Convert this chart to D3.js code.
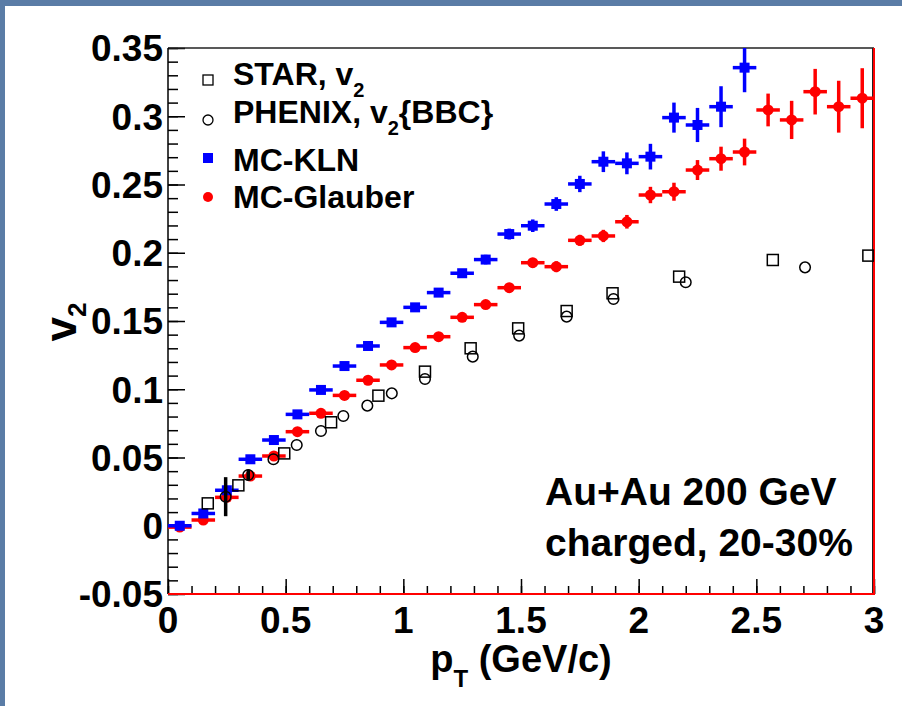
<!DOCTYPE html>
<html>
<head>
<meta charset="utf-8">
<script src="https://cdn.jsdelivr.net/npm/d3@7"></script>
<style>
  html, body { margin: 0; padding: 0; background: #5a7ca6; }
  text { font-family: "Liberation Sans", Arial, Helvetica, sans-serif; font-weight: bold; fill: #000; }
</style>
</head>
<body>
<div id="plot"></div>
<script>
////////////////////////////////////////////////////////////////////////
// data

// MC-KLN (blue squares), bins of width 0.1
let klnPt = [0.05, 0.15, 0.25, 0.35, 0.45, 0.55, 0.65, 0.75, 0.85, 0.95, 1.05, 1.15, 1.25,
             1.35, 1.45, 1.55, 1.65, 1.75, 1.85, 1.95, 2.05, 2.15, 2.25, 2.35, 2.45];
let klnV2 = [0.000, 0.009, 0.026, 0.0487, 0.0628, 0.0816, 0.0995, 0.117, 0.1317, 0.149, 0.160,
             0.1708, 0.185, 0.195, 0.2137, 0.2198, 0.2357, 0.2504, 0.2667, 0.2655, 0.2704,
             0.299, 0.2936, 0.307, 0.3356];
let klnErr = [0.002, 0.002, 0.002, 0.002, 0.002, 0.002, 0.002, 0.002, 0.002, 0.0025, 0.003,
              0.003, 0.003, 0.0035, 0.004, 0.0046, 0.005, 0.006, 0.0076, 0.008, 0.0094,
              0.011, 0.0125, 0.015, 0.018];

// MC-Glauber (red circles)
let glbPt = [0.05, 0.15, 0.25, 0.35, 0.45, 0.55, 0.65, 0.75, 0.85, 0.95, 1.05, 1.15, 1.25,
             1.35, 1.45, 1.55, 1.65, 1.75, 1.85, 1.95, 2.05, 2.15, 2.25, 2.35, 2.45,
             2.55, 2.65, 2.75, 2.85, 2.95];
let glbV2 = [-0.001, 0.0042, 0.0208, 0.0364, 0.0511, 0.0689, 0.0824, 0.0955, 0.1066, 0.1178,
             0.1305, 0.1385, 0.1527, 0.162, 0.1744, 0.1927, 0.1898, 0.2091, 0.2123, 0.2227,
             0.2423, 0.2447, 0.2606, 0.2689, 0.2738, 0.3046, 0.2973, 0.318, 0.307, 0.3132];
let glbErr = [0.002, 0.002, 0.002, 0.002, 0.002, 0.002, 0.002, 0.002, 0.0025, 0.0025, 0.003,
              0.003, 0.003, 0.003, 0.0035, 0.0035, 0.004, 0.004, 0.0045, 0.005, 0.006,
              0.0066, 0.0073, 0.0088, 0.0098, 0.012, 0.014, 0.0167, 0.019, 0.022];

// STAR v2 (open squares)
let starPt = [0.169, 0.299, 0.494, 0.693, 0.894, 1.092, 1.286, 1.488, 1.694, 1.889, 2.172, 2.570, 2.976];
let starV2 = [0.0164, 0.0296, 0.053, 0.0758, 0.0953, 0.1129, 0.130, 0.1446, 0.1573, 0.1703,
              0.1825, 0.1947, 0.1979];

// PHENIX v2{BBC} (open circles)
let phxPt = [0.245, 0.341, 0.448, 0.547, 0.650, 0.745, 0.847, 0.951, 1.092, 1.295, 1.492,
             1.694, 1.893, 2.200, 2.707];
let phxV2 = [0.0213, 0.0372, 0.0487, 0.0592, 0.0694, 0.0804, 0.088, 0.097, 0.1075, 0.1239,
             0.1393, 0.1532, 0.1661, 0.1784, 0.1893];
let phxErr = [0.0143, 0.004, 0, 0, 0, 0, 0, 0, 0, 0, 0, 0, 0, 0, 0];

let xTicks = [0, 0.5, 1, 1.5, 2, 2.5, 3];
let yTicks = [-0.05, 0, 0.05, 0.1, 0.15, 0.2, 0.25, 0.3, 0.35];
let legendLabels = ["STAR", "PHENIX", "MC-KLN", "MC-Glauber"];

////////////////////////////////////////////////////////////////////////
// canvas

let width = 902;
let height = 706;

let svg = d3.select("#plot")
    .append("svg")
    .attr("width", width)
    .attr("height", height)
    .style("display", "block");

// slide background peeks out at the top and left
svg.append("rect").attr("x", 0).attr("y", 0).attr("width", width).attr("height", height)
    .attr("fill", "#5a7ca6");
svg.append("rect").attr("x", 5).attr("y", 6).attr("width", width - 5).attr("height", height - 6)
    .attr("fill", "#ffffff");

// frame of the plot area
let fLeft = 168, fRight = 874, fTop = 48, fBottom = 594;

let xScale = d3.scaleLinear().domain([0, 3]).range([fLeft, fRight]);
let yScale = d3.scaleLinear().domain([-0.05, 0.35]).range([fBottom, fTop]);

// minor ticks every 0.1 on x, 0.01 on y
let xMinor = d3.range(0, 31).map(i => i / 10);
let yMinor = d3.range(-5, 36).map(i => i / 100);

let xAxisMinor = d3.axisTop(xScale).tickValues(xMinor).tickSize(8).tickFormat("");
let xAxisMajor = d3.axisTop(xScale).tickValues(xTicks).tickSize(15).tickFormat("");
let yAxisMinor = d3.axisRight(yScale).tickValues(yMinor).tickSize(10).tickFormat("");
let yAxisMajor = d3.axisRight(yScale).tickValues(yTicks).tickSize(17).tickFormat("");

[xAxisMinor, xAxisMajor].forEach(ax => {
    svg.append("g").attr("transform", `translate(0,${fBottom})`).call(ax)
        .call(g => g.select(".domain").remove())
        .selectAll("line").attr("stroke", "#000").attr("stroke-width", 1.5);
});
[yAxisMinor, yAxisMajor].forEach(ax => {
    svg.append("g").attr("transform", `translate(${fLeft},0)`).call(ax)
        .call(g => g.select(".domain").remove())
        .selectAll("line").attr("stroke", "#000").attr("stroke-width", 1.5);
});

// tick labels (plain hyphen for the minus, like ROOT)
let fmt = d => String(Math.round(d * 100) / 100);

svg.append("g").selectAll("text")
    .data(xTicks)
    .enter().append("text")
    .attr("x", d => xScale(d))
    .attr("y", 633)
    .attr("text-anchor", "middle")
    .attr("font-size", 37)
    .text(fmt);

svg.append("g").selectAll("text")
    .data(yTicks)
    .enter().append("text")
    .attr("x", 163)
    .attr("y", d => yScale(d))
    .attr("dy", "0.36em")
    .attr("text-anchor", "end")
    .attr("font-size", 37)
    .text(fmt);

// frame: black on top/left, red on bottom/right
svg.append("line").attr("x1", fLeft).attr("x2", fRight).attr("y1", fTop).attr("y2", fTop)
    .attr("stroke", "#222").attr("stroke-width", 1.5);
svg.append("line").attr("x1", fLeft).attr("x2", fLeft).attr("y1", fTop).attr("y2", fBottom)
    .attr("stroke", "#000").attr("stroke-width", 1.5);
svg.append("line").attr("x1", fRight - 1.5).attr("x2", fRight - 1.5).attr("y1", fTop).attr("y2", fBottom)
    .attr("stroke", "#222").attr("stroke-width", 1);
svg.append("line").attr("x1", fLeft).attr("x2", fRight + 1).attr("y1", fBottom).attr("y2", fBottom)
    .attr("stroke", "#ff0000").attr("stroke-width", 2);
svg.append("line").attr("x1", fRight).attr("x2", fRight).attr("y1", fTop).attr("y2", fBottom)
    .attr("stroke", "#ff0000").attr("stroke-width", 2);

// axis titles
let xt = svg.append("text").attr("x", 521).attr("y", 672)
    .attr("text-anchor", "middle").attr("font-size", 38);
xt.append("tspan").text("p");
xt.append("tspan").attr("font-size", 24).attr("dy", 15).text("T");
xt.append("tspan").attr("dy", -15).text(" (GeV/c)");

let yt = svg.append("text")
    .attr("transform", "translate(76,322) rotate(-90)")
    .attr("text-anchor", "middle").attr("font-size", 44);
yt.append("tspan").text("v");
yt.append("tspan").attr("font-size", 26).attr("dy", 10).text("2");

////////////////////////////////////////////////////////////////////////
// data marks, clipped to the frame

svg.append("clipPath").attr("id", "frameClip")
    .append("rect").attr("x", fLeft).attr("y", fTop)
    .attr("width", fRight - fLeft).attr("height", fBottom - fTop);

let plot = svg.append("g").attr("clip-path", "url(#frameClip)");

function drawBinned(pts, vals, errs, color) {
    let data = pts.map((p, i) => ({ x: p, y: vals[i], e: errs[i] }));
    let g = plot.append("g");
    g.selectAll("line.h").data(data).enter().append("line")
        .attr("x1", d => xScale(d.x - 0.05)).attr("x2", d => xScale(d.x + 0.05))
        .attr("y1", d => yScale(d.y)).attr("y2", d => yScale(d.y))
        .attr("stroke", color).attr("stroke-width", 3.5);
    g.selectAll("line.v").data(data).enter().append("line")
        .attr("x1", d => xScale(d.x)).attr("x2", d => xScale(d.x))
        .attr("y1", d => yScale(d.y - d.e)).attr("y2", d => yScale(d.y + d.e))
        .attr("stroke", color).attr("stroke-width", 3.5);
    return g.selectAll("x").data(data).enter();
}

drawBinned(glbPt, glbV2, glbErr, "#ff0000")
    .append("circle")
    .attr("cx", d => xScale(d.x)).attr("cy", d => yScale(d.y))
    .attr("r", 5.5).attr("fill", "#ff0000");

drawBinned(klnPt, klnV2, klnErr, "#0000ff")
    .append("rect")
    .attr("x", d => xScale(d.x) - 5).attr("y", d => yScale(d.y) - 5)
    .attr("width", 10).attr("height", 10).attr("fill", "#0000ff");

// PHENIX error bars then open circles
let phx = phxPt.map((p, i) => ({ x: p, y: phxV2[i], e: phxErr[i] }));
plot.selectAll("line.phx").data(phx.filter(d => d.e > 0)).enter().append("line")
    .attr("x1", d => xScale(d.x)).attr("x2", d => xScale(d.x))
    .attr("y1", d => yScale(d.y - d.e)).attr("y2", d => yScale(d.y + d.e))
    .attr("stroke", "#000").attr("stroke-width", 3.5);
plot.selectAll("circle.phx").data(phx).enter().append("circle")
    .attr("cx", d => xScale(d.x)).attr("cy", d => yScale(d.y))
    .attr("r", 5.3).attr("fill", "none").attr("stroke", "#000").attr("stroke-width", 1.5);

let star = starPt.map((p, i) => ({ x: p, y: starV2[i] }));
plot.selectAll("rect.star").data(star).enter().append("rect")
    .attr("x", d => xScale(d.x) - 5.5).attr("y", d => yScale(d.y) - 5.5)
    .attr("width", 11).attr("height", 11)
    .attr("fill", "none").attr("stroke", "#000").attr("stroke-width", 1.5);

////////////////////////////////////////////////////////////////////////
// legend

let lx = 208;
svg.append("rect").attr("x", lx - 5).attr("y", 75).attr("width", 10).attr("height", 10)
    .attr("fill", "none").attr("stroke", "#000").attr("stroke-width", 1.3);
svg.append("circle").attr("cx", lx).attr("cy", 120).attr("r", 5)
    .attr("fill", "none").attr("stroke", "#000").attr("stroke-width", 1.3);
svg.append("rect").attr("x", lx - 5).attr("y", 153).attr("width", 10).attr("height", 10)
    .attr("fill", "#0000ff");
svg.append("circle").attr("cx", lx).attr("cy", 197).attr("r", 5)
    .attr("fill", "#ff0000");

let tx = 233;
let l1 = svg.append("text").attr("x", tx).attr("y", 85).attr("font-size", 32);
l1.append("tspan").text(legendLabels[0] + ", v");
l1.append("tspan").attr("font-size", 20).attr("dy", 12).text("2");

let l2 = svg.append("text").attr("x", tx).attr("y", 123).attr("font-size", 32);
l2.append("tspan").text(legendLabels[1] + ", v");
l2.append("tspan").attr("font-size", 20).attr("dy", 12).text("2");
l2.append("tspan").attr("dy", -12).text("{BBC}");

svg.append("text").attr("x", tx).attr("y", 171).attr("font-size", 32).text(legendLabels[2]);
svg.append("text").attr("x", tx).attr("y", 208).attr("font-size", 32).text(legendLabels[3]);

// collision system note
svg.append("text").attr("x", 545).attr("y", 505).attr("font-size", 39).text("Au+Au 200 GeV");
svg.append("text").attr("x", 545).attr("y", 556).attr("font-size", 39).text("charged, 20-30%");
</script>
</body>
</html>
